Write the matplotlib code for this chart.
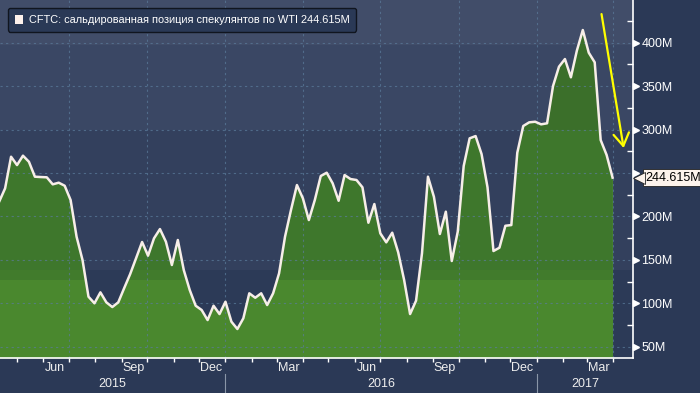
import numpy as np
import pandas as pd
import matplotlib
matplotlib.use("Agg")
import matplotlib.pyplot as plt
import matplotlib.dates as mdates
import matplotlib.transforms as mtransforms
from matplotlib.patches import Patch

plt.rcParams["font.family"] = ["Liberation Sans", "DejaVu Sans"]

# Weekly CFTC net speculative position in WTI, million
dates = pd.date_range(end="2017-03-31", periods=104, freq="7D")
net_position = [
    216.9, 232.3, 268.7, 259.1, 269.9, 262.9, 245.7, 245.3, 245.0, 236.9,
    238.8, 235.3, 218.8, 176.6, 149.7, 107.5, 99.9, 112.5, 101.0, 95.6,
    101.0, 117.5, 133.6, 152.0, 170.5, 154.7, 174.7, 185.4, 170.8, 144.0,
    172.8, 138.2, 115.2, 97.1, 92.2, 80.6, 97.1, 87.5, 101.7, 78.7,
    70.3, 82.6, 111.4, 106.3, 111.4, 97.9, 111.4, 134.4, 176.6, 207.3,
    236.1, 220.8, 195.8, 218.8, 246.5, 250.3, 238.1, 218.0, 247.6, 243.0,
    241.9, 233.5, 192.7, 214.2, 180.5, 170.1, 181.2, 158.6, 126.7, 87.5,
    102.9, 157.5, 245.7, 222.6, 179.7, 205.4, 148.6, 182.3, 258.0, 289.9,
    292.5, 271.8, 233.5, 160.1, 163.9, 189.2, 190.0, 273.3, 304.1, 308.3,
    309.0, 306.0, 307.2, 350.1, 372.4, 381.2, 360.2, 390.8, 414.6, 388.5,
    377.4, 287.9, 270.7, 244.615,
]
last_label = "244.615M"
legend_label = "CFTC: сальдированная позиция спекулянтов по WTI 244.615M"
y_ticks = [50, 100, 150, 200, 250, 300, 350, 400]
y_tick_labels = ["50M", "100M", "150M", "200M", "", "300M", "350M", "400M"]
year_labels = ["2015", "2016", "2017"]

x_start = pd.Timestamp("2015-04-11")
x_end = pd.Timestamp("2017-04-24")
y_min, y_max = 36.9, 449.2

# colours
fig_bg = "#2b3956"
blue_bands = [(0.874, "#414d69"), (0.637, "#3a4764"), (0.246, "#33405d"), (0.0, "#2c3a57")]
green_bands = [(0.637, "#3b6f2a"), (0.246, "#3e772c"), (0.218, "#417b2c"), (0.0, "#4a882e")]
grid_col = "#5b7c9c"


def banded_image(bands, n=358):
    img = np.zeros((n, 1, 3))
    for r, f in enumerate(np.linspace(1, 0, n)):
        for lower, col in bands:
            if f >= lower:
                img[r, 0] = matplotlib.colors.to_rgb(col)
                break
    return img


fig = plt.figure(figsize=(7, 3.93), dpi=100, facecolor=fig_bg)
ax = fig.add_axes([0, 35 / 393, 633 / 700, 358 / 393])
ax.set_facecolor("none")

# background bands
ax.imshow(banded_image(blue_bands), extent=[0, 1, 0, 1], transform=ax.transAxes,
          aspect="auto", zorder=0, interpolation="nearest")

# green area with its own bands, clipped to the fill
fill = ax.fill_between(dates, net_position, y_min, color=green_bands[-1][1], lw=0, zorder=1)
green = ax.imshow(banded_image(green_bands), extent=[0, 1, 0, 1], transform=ax.transAxes,
                  aspect="auto", zorder=1.1, interpolation="nearest")
green.set_clip_path(fill.get_paths()[0], transform=ax.transData)

ax.plot(dates, net_position, color="#f7eee8", lw=1.8, zorder=3)

ax.set_xlim(x_start, x_end)
ax.set_ylim(y_min, y_max)

# grid
for v in y_ticks:
    ax.axhline(v, color=grid_col, lw=0.8, ls=(0, (2, 3)), alpha=0.7, zorder=2)
for d in pd.date_range("2015-07-01", "2017-04-01", freq="QS"):
    ax.axvline(d, color=grid_col, lw=0.8, ls=(0, (2, 3)), alpha=0.7, zorder=2)

# spines
for s in ["top", "left"]:
    ax.spines[s].set_visible(False)
for s in ["bottom", "right"]:
    ax.spines[s].set_color("white")
    ax.spines[s].set_linewidth(1.2)

# y axis on the right
ax.yaxis.tick_right()
ax.set_yticks(y_ticks)
ax.set_yticklabels(y_tick_labels)
ax.set_yticks(np.arange(75, 450, 50), minor=True)
ax.tick_params(axis="y", which="major", length=0, pad=6, labelsize=9, labelcolor="white")
ax.tick_params(axis="y", which="minor", direction="in", length=4, width=1, color="white")
yt = mtransforms.blended_transform_factory(ax.transAxes, ax.transData)
ax.plot([1.004] * len(y_ticks), y_ticks, ls="none", marker=">", ms=5, color="white",
        transform=yt, clip_on=False, zorder=4)

# x axis: month ticks, quarter labels centred in the month
ax.xaxis.set_minor_locator(mdates.MonthLocator())
ax.xaxis.set_major_locator(mdates.MonthLocator(bymonth=[3, 6, 9, 12], bymonthday=15))
ax.xaxis.set_major_formatter(mdates.DateFormatter("%b"))
ax.tick_params(axis="x", which="major", length=0, pad=3, labelsize=9, labelcolor="#eeeeee")
ax.tick_params(axis="x", which="minor", direction="out", length=3, width=1, color="white")

# year labels and separators
xt = mtransforms.blended_transform_factory(ax.transData, ax.transAxes)
year_edges = [x_start, pd.Timestamp("2016-01-01"), pd.Timestamp("2017-01-01"), x_end]
for i, lab in enumerate(year_labels):
    a, b = mdates.date2num(year_edges[i]), mdates.date2num(year_edges[i + 1])
    ax.text((a + b) / 2, -0.072, lab, transform=xt, ha="center", va="center",
            fontsize=9, color="#eeeeee")
for d in year_edges[1:3]:
    ax.plot([d, d], [-0.045, -0.1], transform=xt, color="#8a96a8", lw=0.8, clip_on=False)

# last value label
ax.plot([1.009], [net_position[-1]], marker="<", ms=8, color="#fdf3ec", mec="#222222",
        mew=0.6, transform=yt, clip_on=False, zorder=6)
ax.text(1.019, net_position[-1], last_label, transform=yt, ha="left", va="center",
        fontsize=9, color="black", clip_on=False, zorder=5,
        bbox=dict(boxstyle="square,pad=0.18", fc="#fdf3ec", ec="#222222", lw=0.6))

# yellow arrow
ax.annotate("", xy=(pd.Timestamp("2017-04-13"), 278.7),
            xytext=(pd.Timestamp("2017-03-18"), 433),
            arrowprops=dict(arrowstyle="->,head_length=0.45,head_width=0.28",
                            color="#ffff00", lw=1.6, mutation_scale=20,
                            shrinkA=0, shrinkB=0), zorder=7)

# legend
leg = ax.legend(handles=[Patch(fc="#fdf1ec", ec="none")], labels=[legend_label],
                loc="upper left", bbox_to_anchor=(8 / 633, 1 - 8 / 358), borderaxespad=0,
                fontsize=7.9, labelcolor="white", handlelength=0.8, handleheight=0.9,
                handletextpad=0.5, borderpad=0.6, fancybox=True, framealpha=1)
leg.get_frame().set_facecolor("#2a3956")
leg.get_frame().set_edgecolor("#10151f")
leg.set_zorder(8)

fig.savefig("out.png", dpi=100, facecolor=fig_bg)
